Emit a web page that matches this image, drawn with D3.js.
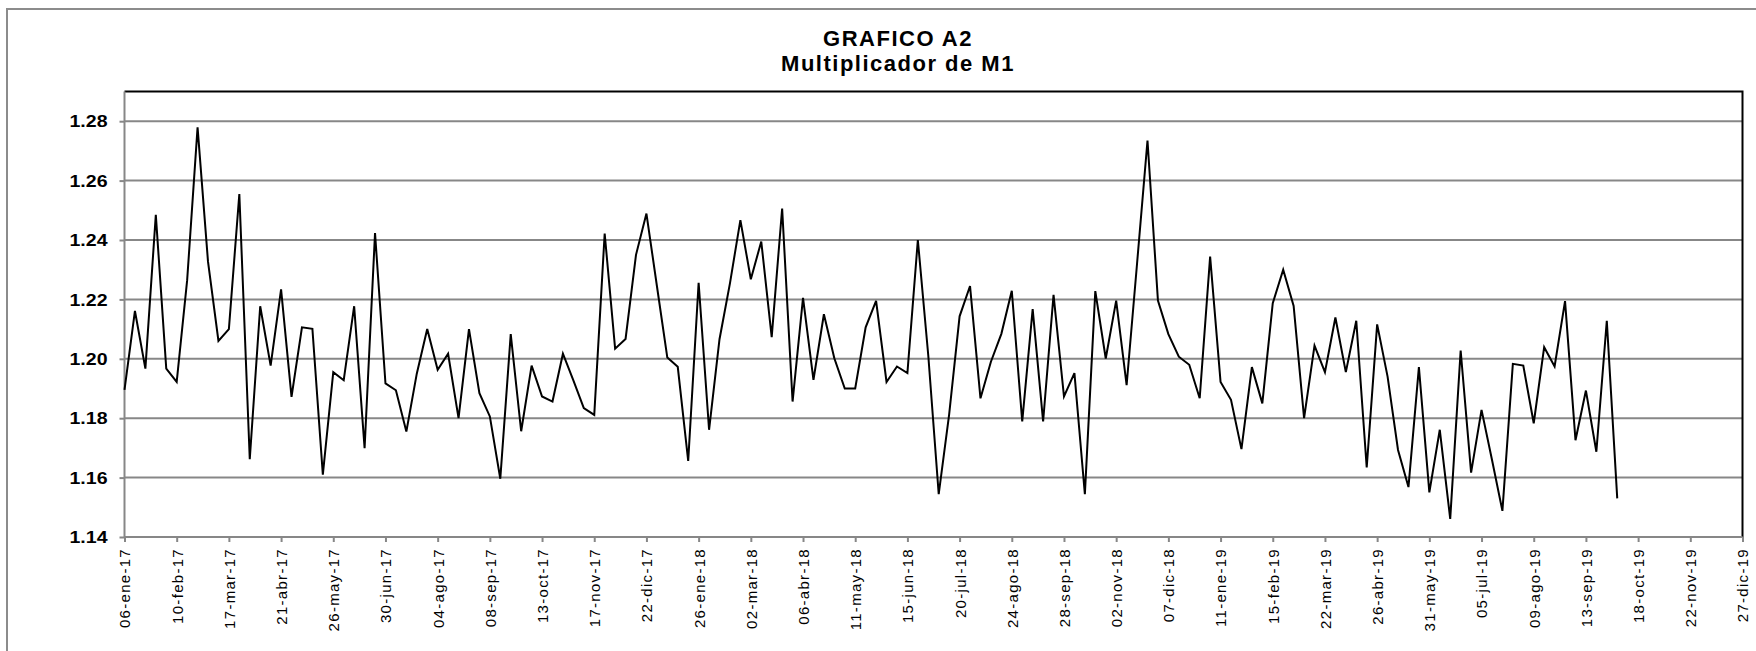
<!DOCTYPE html>
<html>
<head>
<meta charset="utf-8">
<script src="https://cdn.jsdelivr.net/npm/d3@7/dist/d3.min.js"></script>
<style>
  body { margin: 0; background: #fff; }
  text { font-family: "Liberation Sans", Arial, sans-serif; }
</style>
</head>
<body>
<div class="svgHolder"></div>
<script>
const wd = 1756
const ht = 651

// weekly data, first week 06-ene-17
const startDate = new Date(Date.UTC(2017, 0, 6))
const values = [
  1.1895, 1.2161, 1.1967, 1.2485, 1.1967, 1.1922, 1.2264, 1.2779, 1.2327, 1.2060,
  1.2100, 1.2555, 1.1662, 1.2177, 1.1977, 1.2234, 1.1872, 1.2106, 1.2101, 1.1610,
  1.1955, 1.1928, 1.2177, 1.1699, 1.2423, 1.1917, 1.1894, 1.1755, 1.1950, 1.2100,
  1.1963, 1.2017, 1.1800, 1.2100, 1.1884, 1.1806, 1.1596, 1.2083, 1.1756, 1.1977,
  1.1873, 1.1856, 1.2017, 1.1927, 1.1834, 1.1811, 1.2422, 1.2034, 1.2067, 1.2350,
  1.2489, 1.2246, 1.2004, 1.1973, 1.1656, 1.2256, 1.1761, 1.2066, 1.2254, 1.2467,
  1.2268, 1.2395, 1.2073, 1.2506, 1.1856, 1.2205, 1.1929, 1.2150, 1.2002, 1.1900,
  1.1900, 1.2106, 1.2195, 1.1922, 1.1974, 1.1952, 1.2400, 1.2011, 1.1544, 1.1813,
  1.2143, 1.2245, 1.1867, 1.1990, 1.2084, 1.2229, 1.1789, 1.2167, 1.1789, 1.2215,
  1.1873, 1.1952, 1.1544, 1.2228, 1.2001, 1.2196, 1.1911, 1.2321, 1.2735, 1.2196,
  1.2083, 1.2007, 1.1980, 1.1867, 1.2344, 1.1922, 1.1862, 1.1696, 1.1972, 1.1850,
  1.2187, 1.2300, 1.2178, 1.1800, 1.2044, 1.1955, 1.2139, 1.1955, 1.2128, 1.1634,
  1.2116, 1.1940, 1.1693, 1.1568, 1.1972, 1.1550, 1.1761, 1.1461, 1.2028, 1.1617,
  1.1828, 1.1660, 1.1488, 1.1983, 1.1977, 1.1783, 1.2039, 1.1974, 1.2194, 1.1726,
  1.1893, 1.1687, 1.2128, 1.1530
]

const yTicks = [1.14, 1.16, 1.18, 1.20, 1.22, 1.24, 1.26, 1.28]

// one label every 5 weeks
const xTickLabels = [
  "06-ene-17", "10-feb-17", "17-mar-17", "21-abr-17", "26-may-17", "30-jun-17",
  "04-ago-17", "08-sep-17", "13-oct-17", "17-nov-17", "22-dic-17", "26-ene-18",
  "02-mar-18", "06-abr-18", "11-may-18", "15-jun-18", "20-jul-18", "24-ago-18",
  "28-sep-18", "02-nov-18", "07-dic-18", "11-ene-19", "15-feb-19", "22-mar-19",
  "26-abr-19", "31-may-19", "05-jul-19", "09-ago-19", "13-sep-19", "18-oct-19",
  "22-nov-19", "27-dic-19"
]

const titleLines = ["GRAFICO A2", "Multiplicador de M1"]

const plot = {left: 124.5, right: 1742.5, top: 91.5, bottom: 537}
const gridCol = "#878787"

const svg = d3.select(".svgHolder").append("svg")
  .attr("width", wd)
  .attr("height", ht)

// outer chart frame
svg.append("path")
  .attr("d", `M7,${ht} V9 H${wd}`)
  .attr("fill", "none")
  .style("stroke", "#8c8c8c")
  .style("stroke-width", "2px")

const tickDates = xTickLabels.map((d, i) => d3.utcDay.offset(startDate, 35 * i))

const x = d3.scaleUtc()
  .domain([tickDates[0], tickDates[tickDates.length - 1]])
  .range([plot.left, plot.right])

const y = d3.scaleLinear()
  .domain([1.14, 1.29])
  .range([plot.bottom, plot.top])

// gridlines
svg.append("g")
  .selectAll("line")
  .data(yTicks.slice(1))
  .enter()
  .append("line")
  .attr("x1", plot.left)
  .attr("x2", plot.right)
  .attr("y1", d => y(d))
  .attr("y2", d => y(d))
  .style("stroke", gridCol)
  .style("stroke-width", "2px")

// top + right border
svg.append("path")
  .attr("d", `M${plot.left},${y(1.29)} H${plot.right} V${plot.bottom}`)
  .attr("fill", "none")
  .style("stroke", "#000")
  .style("stroke-width", "2px")

// y axis
const yAxis = svg.append("g")
  .attr("transform", `translate(${plot.left},0)`)
  .call(d3.axisLeft(y).tickValues(yTicks).tickFormat(d3.format(".2f")).tickSize(5).tickSizeOuter(0))

yAxis.select(".domain").remove()
yAxis.append("line")
  .attr("y1", y(1.29)).attr("y2", plot.bottom)
  .style("stroke", gridCol).style("stroke-width", "2px")
yAxis.selectAll(".tick line").style("stroke", gridCol).style("stroke-width", "2px")
yAxis.selectAll(".tick text")
  .attr("x", -17)
  .attr("dy", "0.36em")
  .attr("textLength", 38)
  .attr("lengthAdjust", "spacingAndGlyphs")
  .style("font-size", "16px")
  .style("font-weight", "bold")
  .style("fill", "#000")

// x axis
const xAxis = svg.append("g")
  .attr("transform", `translate(0,${plot.bottom})`)
  .call(d3.axisBottom(x).tickValues(tickDates).tickFormat((d, i) => xTickLabels[i]).tickSize(5).tickSizeOuter(0))

xAxis.select(".domain").remove()
xAxis.append("line")
  .attr("x1", plot.left).attr("x2", plot.right)
  .style("stroke", gridCol).style("stroke-width", "2px")
xAxis.selectAll(".tick line").style("stroke", gridCol).style("stroke-width", "2px")
xAxis.selectAll(".tick text")
  .attr("transform", "rotate(-90)")
  .attr("x", -11)
  .attr("y", 0)
  .attr("dy", "0.36em")
  .attr("text-anchor", "end")
  .style("font-size", "15px")
  .style("letter-spacing", "1.3px")
  .style("fill", "#000")

// series line
const lineFunc = d3.line()
  .x((d, i) => x(d3.utcDay.offset(startDate, 7 * i)))
  .y(d => y(d))

svg.append("path")
  .attr("d", lineFunc(values))
  .attr("fill", "none")
  .style("stroke", "#000")
  .style("stroke-width", "2px")
  .style("stroke-linejoin", "miter")

// title
svg.append("g")
  .selectAll("text")
  .data(titleLines)
  .enter()
  .append("text")
  .attr("x", 898)
  .attr("y", (d, i) => 46 + i * 25)
  .attr("text-anchor", "middle")
  .style("font-size", "22px")
  .style("font-weight", "bold")
  .style("letter-spacing", "1.5px")
  .text(d => d)
</script>
</body>
</html>
